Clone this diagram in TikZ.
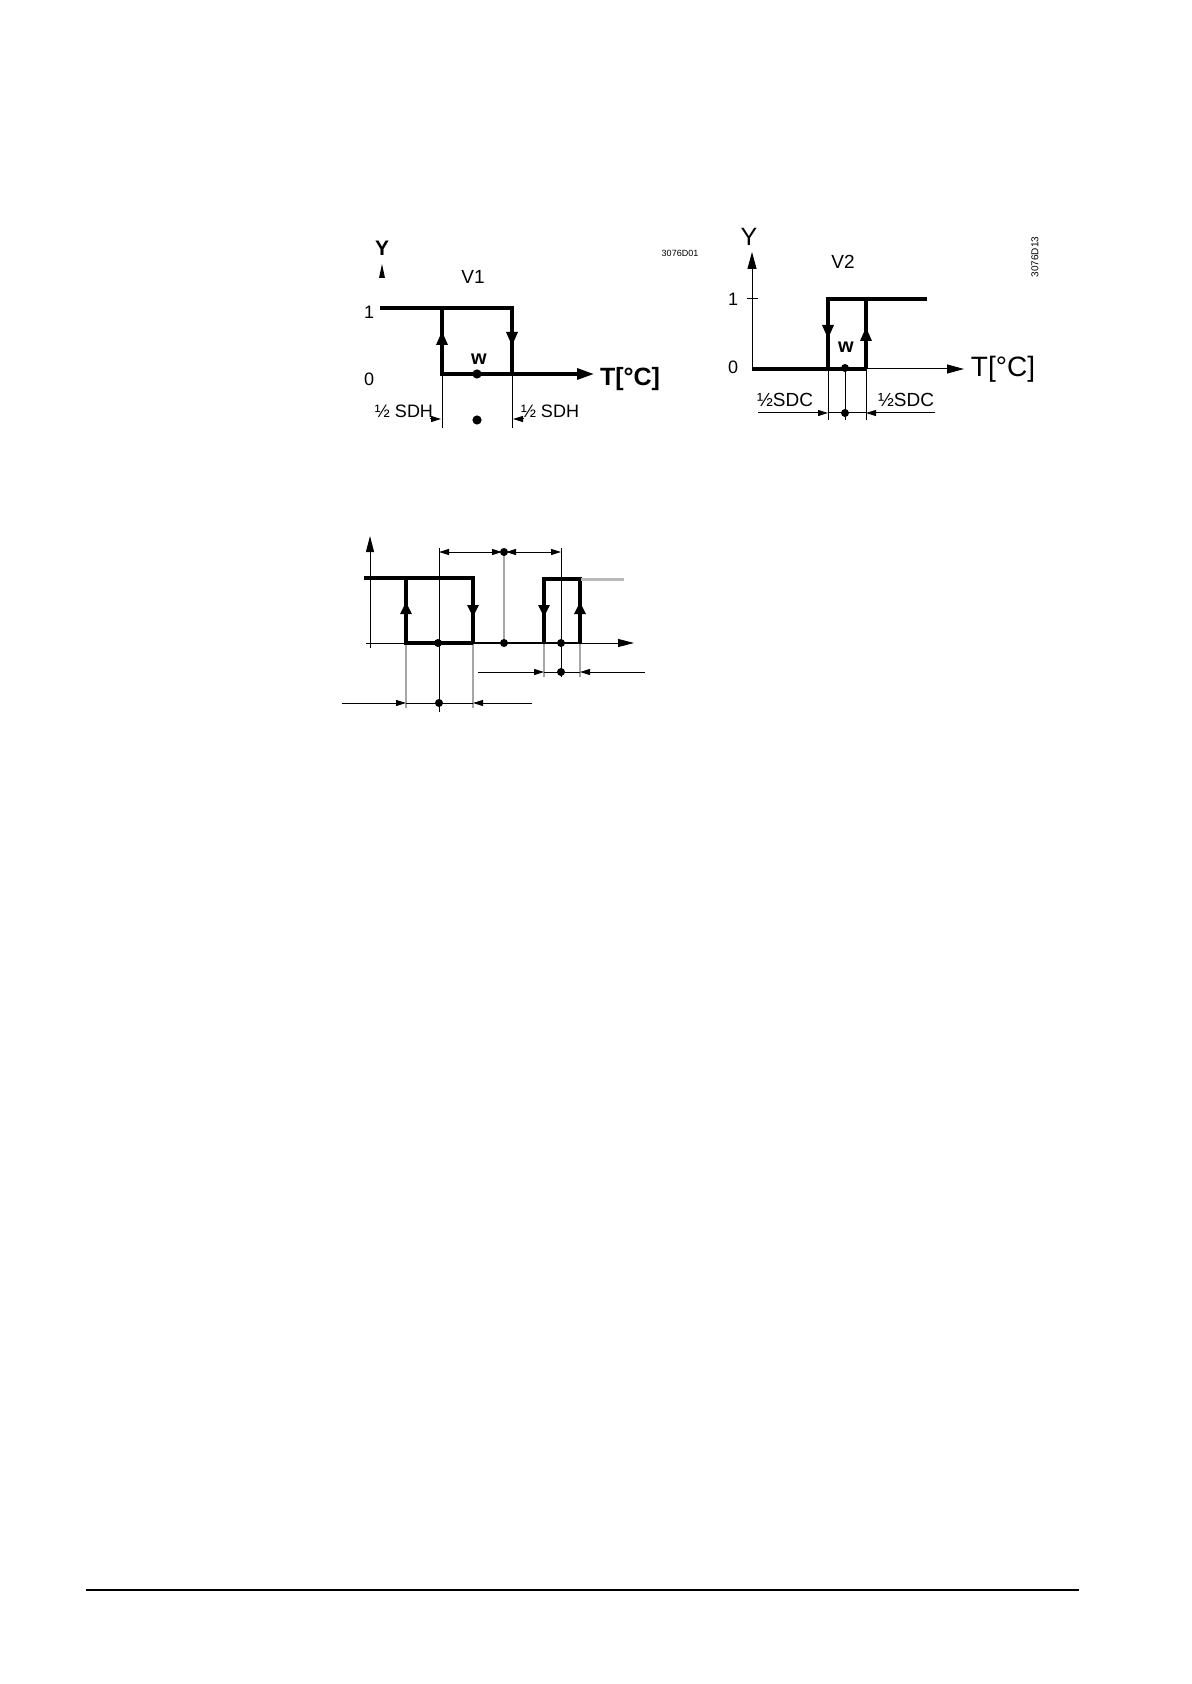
\documentclass[tikz,border=0pt]{standalone}
\usepackage{fontspec}
\setmainfont{Liberation Sans}
\usetikzlibrary{arrows.meta}
\begin{document}
\begin{tikzpicture}[x=0.5pt,y=-0.5pt,
  thickl/.style={line width=1.6pt},
  thinl/.style={line width=0.5pt},
  grayl/.style={line width=0.6pt,gray!70},
  tri/.style={-{Triangle[length=7pt,width=5.5pt]}},
  trib/.style={-{Triangle[length=6pt,width=5.5pt]}},
  smtri/.style={-{Triangle[length=5pt,width=3pt]}},
  axtri/.style={-{Triangle[length=8pt,width=4pt]}},
  dbl/.style={{Triangle[length=5pt,width=3pt]}-{Triangle[length=5pt,width=3pt]}},
  dot/.style={circle,fill,inner sep=0pt,minimum size=4pt},
  lbl/.style={inner sep=0pt,font=\fontsize{9}{10}\selectfont},
]
\useasboundingbox (0,0) rectangle (1191,1684);

% ---------------- Diagram V1 ----------------
\node[lbl,font=\fontsize{10.5}{12}\selectfont\bfseries] (y1) at (382,248) {Y};
\fill (379,278) -- (385,278) -- (382,264) -- cycle;
\node[lbl,font=\fontsize{4.5}{5}\selectfont] (c1) at (680,253) {3076D01};
\node[lbl,font=\fontsize{9.5}{11}\selectfont] (v1) at (473,277) {V1};
\node[lbl] (one1) at (369,312) {1};
\node[lbl] (zero1) at (369,379) {0};
\coordinate (a1) at (380,308);
\coordinate (b1) at (442,308);
\coordinate (c1t) at (512,308);
\coordinate (d1) at (442,374);
\coordinate (e1) at (512,374);
\coordinate (f1) at (594,374);
\draw[thickl] (a1) -- (c1t) -- (e1);
\draw[thickl] (b1) -- (d1) -- (e1);
\draw[thickl,-{Triangle[length=8.5pt,width=5.5pt]}] (e1) -- (f1);
\draw[thickl,tri] (442,352) -- (442,331);
\draw[thickl,tri] (512,326) -- (512,346);
\node[lbl,font=\fontsize{10}{11}\selectfont\bfseries] (w1) at (479,359) {w};
\node[dot,minimum size=4.6pt] (w1d) at (477,374) {};
\node[lbl,font=\fontsize{12.5}{14}\selectfont\bfseries] (t1) at (630,379) {T[°C]};
\draw[thinl] (d1) -- (442,428);
\draw[thinl] (e1) -- (512,428);
\node[lbl] (sdh1) at (404,411) {½ SDH};
\node[lbl] (sdh2) at (550,411) {½ SDH};
\draw[thinl,smtri] (430,419) -- (441,419);
\draw[thinl,smtri] (524,419) -- (513,419);
\node[dot,minimum size=4.6pt] (m1) at (477,420) {};

% ---------------- Diagram V2 ----------------
\node[lbl,font=\fontsize{12.5}{14}\selectfont] (y2) at (749,237) {Y};
\coordinate (o2) at (752,369);
\draw[thinl,-{Triangle[length=8.5pt,width=4.5pt]}] (o2) -- (752,252);
\node[lbl,font=\fontsize{9.5}{11}\selectfont] (v2) at (843,262) {V2};
\node[lbl] (one2) at (733,299) {1};
\node[lbl] (zero2) at (733,367) {0};
\draw[thinl] (747,299) -- (758,299);
\coordinate (p2) at (828,299);
\coordinate (q2) at (866,299);
\coordinate (r2) at (927,299);
\coordinate (s2) at (828,369);
\coordinate (u2) at (866,369);
\draw[thickl] (s2) -- (p2) -- (r2);
\draw[thickl] (q2) -- (u2);
\draw[thickl] (o2) -- (u2);
\draw[thinl,-{Triangle[length=8.5pt,width=4.5pt]}] (u2) -- (964,369);
\draw[thickl,tri] (828,318) -- (828,339);
\draw[thickl,tri] (866,349) -- (866,327);
\node[lbl,font=\fontsize{10}{11}\selectfont\bfseries] (w2) at (846,347) {w};
\node[dot] (w2d) at (845,368) {};
\node[lbl,font=\fontsize{14}{16}\selectfont] (t2) at (1003,369) {T[°C]};
\node[lbl,font=\fontsize{5}{6}\selectfont,rotate=90] (c2) at (1035,257) {3076D13};
\draw[thinl] (s2) -- (828,420);
\draw[thinl] (845,369) -- (845,420);
\draw[thinl] (u2) -- (866,420);
\node[lbl,font=\fontsize{9.5}{11}\selectfont] (sdc1) at (785,400) {½SDC};
\node[lbl,font=\fontsize{9.5}{11}\selectfont] (sdc2) at (906,400) {½SDC};
\draw[thinl,smtri] (758,413) -- (828,413);
\draw[thinl] (828,413) -- (866,413);
\draw[thinl,smtri] (935,413) -- (866,413);
\node[dot] (m2) at (845,413) {};

% ---------------- Diagram 3 ----------------
\coordinate (o3) at (370,648);
\draw[thinl,axtri] (o3) -- (370,536);
\draw[thinl,axtri] (366,643) -- (634,643);
% projection lines
\draw[grayl] (406,643) -- (406,708);
\draw[grayl] (473,643) -- (473,708);
\draw[grayl] (544,643) -- (544,677);
\draw[grayl] (580,643) -- (580,677);
\draw[grayl] (504,552) -- (504,643);
\draw[thinl] (439,548) -- (439,712);
\draw[thinl] (561,548) -- (561,677);
% step curves
\draw[thickl] (364,578) -- (473,578) -- (473,643);
\draw[thickl] (406,578) -- (406,643) -- (473,643);
\draw[line width=1.1pt] (473,643) -- (581,643);
\draw[thickl] (544,643) -- (544,579) -- (580,579) -- (580,643);
\draw[line width=1.5pt,gray!55] (581,579) -- (624,579);
\draw[thickl,trib] (406,620) -- (406,602);
\draw[thickl,trib] (473,599) -- (473,617);
\draw[thickl,trib] (544,599) -- (544,617);
\draw[thickl,trib] (580,620) -- (580,602);
\node[dot] (k1) at (438,643) {};
\node[dot] (k2) at (504,643) {};
\node[dot] (k3) at (561,643) {};
% top dimension
\node[dot] (k4) at (504,552) {};
\draw[thinl,dbl] (439,552) -- (502,552);
\draw[thinl,dbl] (506,552) -- (561,552);
% right dimension
\draw[thinl,smtri] (478,672) -- (544,672);
\draw[thinl] (544,672) -- (580,672);
\draw[thinl,smtri] (645,672) -- (580,672);
\node[dot] (k5) at (561,672) {};
% bottom dimension
\draw[thinl,smtri] (342,703) -- (406,703);
\draw[thinl] (406,703) -- (473,703);
\draw[thinl,smtri] (532,703) -- (473,703);
\node[dot] (k6) at (439,703) {};

% footer rule
\draw[line width=0.9pt] (86,1590) -- (1079,1590);
\end{tikzpicture}
\end{document}
